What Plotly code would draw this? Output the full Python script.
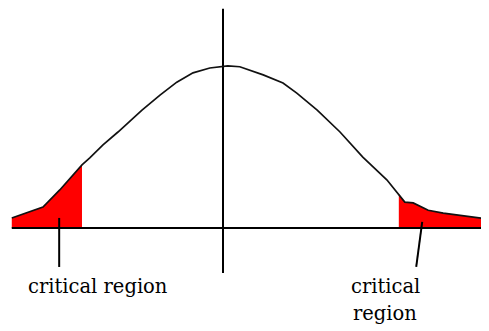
import plotly.graph_objects as go

# curve: x in standard units, y as density height
curve_x = [-3.52, -3.0, -2.72, -2.35, -2.22, -2.0, -1.75, -1.35, -1.05, -0.77, -0.5, -0.22, 0.08,
           0.28, 0.67, 1.0, 1.23, 1.57, 1.95, 2.33, 2.73, 2.93, 3.03, 3.17, 3.42, 3.67, 3.9, 4.17, 4.43]
curve_y = [0.025, 0.052, 0.094, 0.156, 0.173, 0.205, 0.237, 0.291, 0.328, 0.360, 0.383, 0.395, 0.400,
           0.398, 0.378, 0.358, 0.333, 0.291, 0.237, 0.175, 0.119, 0.084, 0.064, 0.062, 0.044, 0.037,
           0.032, 0.027, 0.022]

left_cut = -2.35
right_cut = 2.93

# axis extents
h_axis_x = [-3.52, 4.5]
v_axis_y = [-0.111, 0.541]

# pointer lines from the regions to the labels
left_ptr_x, left_ptr_y = [-2.73, -2.73], [0.025, -0.096]
right_ptr_x, right_ptr_y = [3.32, 3.22], [0.015, -0.096]

labels = ["critical region", "critical", "region"]
label_x = [-2.09, 2.7, 2.7]
label_y = [-0.145, -0.143, -0.212]

left_x = [x for x in curve_x if x <= left_cut]
left_y = [y for x, y in zip(curve_x, curve_y) if x <= left_cut]
right_x = [x for x in curve_x if x >= right_cut]
right_y = [y for x, y in zip(curve_x, curve_y) if x >= right_cut]

fig = go.Figure()

# red critical regions
for xs, ys in [(left_x, left_y), (right_x, right_y)]:
    fig.add_trace(go.Scatter(x=xs, y=ys, mode="lines", fill="tozeroy",
                             fillcolor="#ff0000", line=dict(width=0, color="#ff0000")))

# axes
fig.add_trace(go.Scatter(x=h_axis_x, y=[0, 0], mode="lines", line=dict(color="black", width=2)))
fig.add_trace(go.Scatter(x=[0, 0], y=v_axis_y, mode="lines", line=dict(color="black", width=2)))

# the bell curve
fig.add_trace(go.Scatter(x=curve_x, y=curve_y, mode="lines",
                         line=dict(color="#111111", width=1.7)))

# pointers
fig.add_trace(go.Scatter(x=left_ptr_x, y=left_ptr_y, mode="lines", line=dict(color="black", width=2)))
fig.add_trace(go.Scatter(x=right_ptr_x, y=right_ptr_y, mode="lines", line=dict(color="black", width=2)))

for t, x, y in zip(labels, label_x, label_y):
    fig.add_annotation(x=x, y=y, text=t, showarrow=False, xanchor="center", yanchor="middle",
                       font=dict(family="DejaVu Serif", size=19.5, color="black"))

# page body has an 8px margin, so the figure is 8px smaller and the ranges start there
fig.update_xaxes(range=[-3.583, 4.433], visible=False)
fig.update_yaxes(range=[-0.254, 0.543], visible=False)
fig.update_layout(width=481, height=323, margin=dict(l=0, r=0, t=0, b=0),
                  plot_bgcolor="white", paper_bgcolor="white", showlegend=False)

fig.write_html("out.html")
